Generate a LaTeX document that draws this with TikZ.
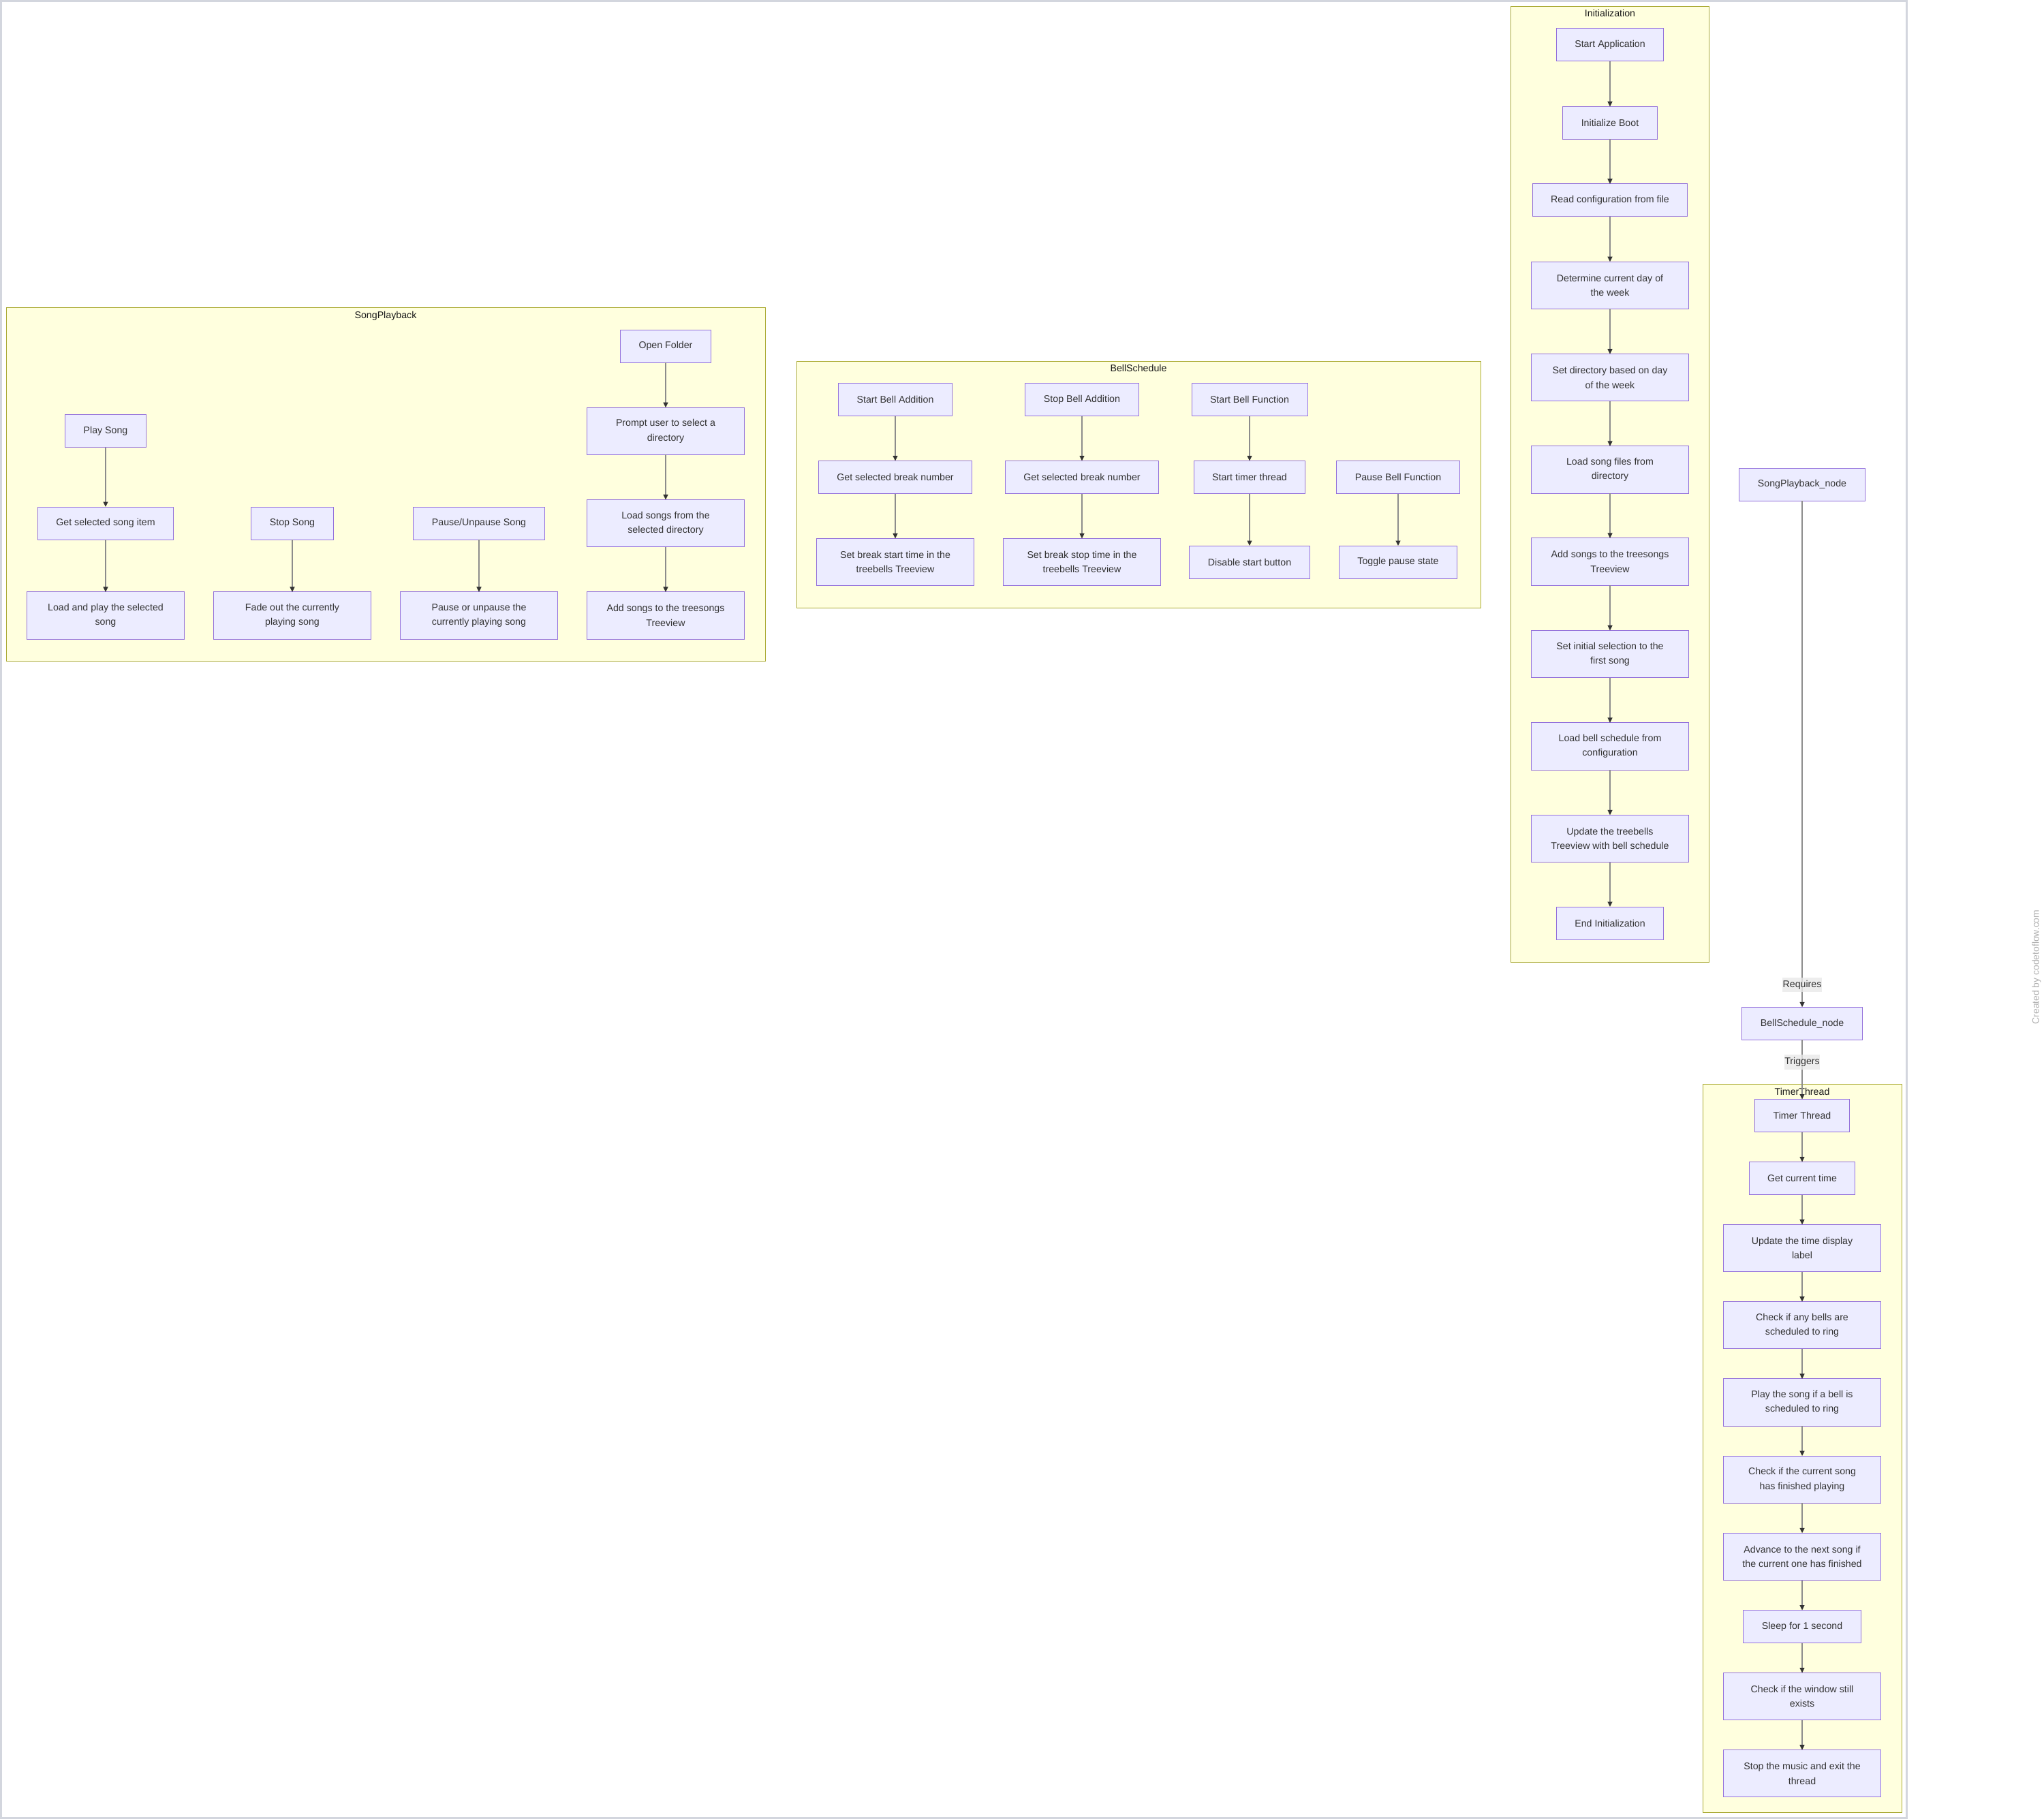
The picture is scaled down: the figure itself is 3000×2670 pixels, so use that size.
\documentclass[tikz,border=0pt]{standalone}
\usepackage{fontspec}
\setmainfont{Liberation Sans}
\usetikzlibrary{arrows.meta}

\definecolor{nodefill}{HTML}{ECECFF}
\definecolor{nodeline}{HTML}{9370DB}
\definecolor{clusterfill}{HTML}{FFFFDE}
\definecolor{clusterline}{HTML}{AAAA33}
\definecolor{ink}{HTML}{333333}
\definecolor{edgeline}{HTML}{8C8C8C}
\definecolor{labelfill}{HTML}{E8E8E8}
\definecolor{frameline}{HTML}{D3D6DE}
\definecolor{marktext}{HTML}{AEAEAE}

\tikzset{
  every node/.style={font=\fontsize{14.2}{21.3}\selectfont, text=ink, outer sep=0pt},
  box/.style={draw=nodeline, fill=nodefill, line width=1pt, inner xsep=27pt, inner ysep=0pt, minimum height=48pt},
  wide/.style={box, align=center, minimum width=231pt, minimum height=69.2pt},
  cluster/.style={draw=clusterline, fill=clusterfill, line width=1pt},
  ctitle/.style={anchor=base, text=black!90},
  flow/.style={draw=edgeline, line width=1.3pt, -{Triangle[length=7.5pt,width=7pt,color=ink]}},
  elabel/.style={fill=labelfill, fill opacity=0.8, text opacity=1, inner xsep=0.5pt, inner ysep=0pt, minimum height=21.3pt}
}

\begin{document}
\begin{tikzpicture}[x=1pt,y=-1pt]
\useasboundingbox (0,0) rectangle (3000,2670);

% outer frame and credit line
\draw[frameline, line width=3pt] (1.5,1.5) rectangle (2798.5,2668.5);
\node[rotate=90, text=marktext, font=\fontsize{13.9}{16}\selectfont] (credit) at (2989,1419.5) {Created by codetoflow.com};

% subgraph frames
\draw[cluster] (2217.5,9.5) rectangle (2508.5,1412);
\node[ctitle] (tinit) at (2363,25) {Initialization};
\draw[cluster] (9.5,451.5) rectangle (1123,970);
\node[ctitle] (tsong) at (566,467) {SongPlayback};
\draw[cluster] (1169,530) rectangle (2173.5,892);
\node[ctitle] (tbell) at (1671,545.5) {BellSchedule};
\draw[cluster] (2499,1591.5) rectangle (2791,2660);
\node[ctitle] (ttimer) at (2645,1607) {TimerThread};

% Initialization
\node[box]  (sa) at (2363,66)     {Start Application};
\node[box]  (ib) at (2363,180.5)  {Initialize Boot};
\node[box]  (rc) at (2363,294)    {Read configuration from file};
\node[wide] (dd) at (2363,418.8)  {Determine current day of\\the week};
\node[wide] (sd) at (2363,554.3)  {Set directory based on day\\of the week};
\node[wide] (lf) at (2363,689.5)  {Load song files from\\directory};
\node[wide] (as) at (2363,824.5)  {Add songs to the treesongs\\Treeview};
\node[wide] (si) at (2363,960)    {Set initial selection to the\\first song};
\node[wide] (lb) at (2363,1095.5) {Load bell schedule from\\configuration};
\node[wide] (ut) at (2363,1231)   {Update the treebells\\Treeview with bell schedule};
\node[box]  (ei) at (2363,1355)   {End Initialization};

% SongPlayback
\node[box]  (of)  at (977,508)    {Open Folder};
\node[wide] (pr)  at (977,632.8)  {Prompt user to select a\\directory};
\node[wide] (lsd) at (977,768)    {Load songs from the\\selected directory};
\node[wide] (ast) at (977,903.5)  {Add songs to the treesongs\\Treeview};
\node[box]  (ps)  at (155,632.8)  {Play Song};
\node[box]  (gs)  at (155,768)    {Get selected song item};
\node[wide] (lp)  at (155,903.5)  {Load and play the selected\\song};
\node[box]  (ss)  at (429,768)    {Stop Song};
\node[wide] (fo)  at (429,903.5)  {Fade out the currently\\playing song};
\node[box]  (pp)  at (703,768)    {Pause/Unpause Song};
\node[wide] (pu)  at (703,903.5)  {Pause or unpause the\\currently playing song};

% BellSchedule
\node[box]  (sba) at (1314,586.5) {Start Bell Addition};
\node[box]  (gb1) at (1314,700.5) {Get selected break number};
\node[wide] (sbs) at (1314,825)   {Set break start time in the\\treebells Treeview};
\node[box]  (sbo) at (1588,586.5) {Stop Bell Addition};
\node[box]  (gb2) at (1588,700.5) {Get selected break number};
\node[wide] (sbt) at (1588,825)   {Set break stop time in the\\treebells Treeview};
\node[box]  (sbf) at (1834,586.5) {Start Bell Function};
\node[box]  (stt) at (1834,700.5) {Start timer thread};
\node[box]  (dsb) at (1834,825)   {Disable start button};
\node[box]  (pbf) at (2052,700.5) {Pause Bell Function};
\node[box]  (tps) at (2052,825)   {Toggle pause state};

% cross-group nodes
\node[box] (spn) at (2645,711)    {SongPlayback\_node};
\node[box] (bsn) at (2645,1502.3) {BellSchedule\_node};

% TimerThread
\node[box]  (tt)  at (2645,1637.5) {Timer Thread};
\node[box]  (gct) at (2645,1729.5) {Get current time};
\node[wide] (utd) at (2645,1832.1) {Update the time display\\label};
\node[wide] (cab) at (2645,1945.3) {Check if any bells are\\scheduled to ring};
\node[wide] (psb) at (2645,2058.5) {Play the song if a bell is\\scheduled to ring};
\node[wide] (cfp) at (2645,2171.7) {Check if the current song\\has finished playing};
\node[wide] (adv) at (2645,2284.9) {Advance to the next song if\\the current one has finished};
\node[box]  (slp) at (2645,2387.5) {Sleep for 1 second};
\node[wide] (cwe) at (2645,2490.1) {Check if the window still\\exists};
\node[wide] (stm) at (2645,2603.3) {Stop the music and exit the\\thread};

% connectors
\draw[flow] (sa) -- (ib);
\draw[flow] (ib) -- (rc);
\draw[flow] (rc) -- (dd);
\draw[flow] (dd) -- (sd);
\draw[flow] (sd) -- (lf);
\draw[flow] (lf) -- (as);
\draw[flow] (as) -- (si);
\draw[flow] (si) -- (lb);
\draw[flow] (lb) -- (ut);
\draw[flow] (ut) -- (ei);

\draw[flow] (of) -- (pr);
\draw[flow] (pr) -- (lsd);
\draw[flow] (lsd) -- (ast);
\draw[flow] (ps) -- (gs);
\draw[flow] (gs) -- (lp);
\draw[flow] (ss) -- (fo);
\draw[flow] (pp) -- (pu);

\draw[flow] (sba) -- (gb1);
\draw[flow] (gb1) -- (sbs);
\draw[flow] (sbo) -- (gb2);
\draw[flow] (gb2) -- (sbt);
\draw[flow] (sbf) -- (stt);
\draw[flow] (stt) -- (dsb);
\draw[flow] (pbf) -- (tps);

\draw[flow] (spn) -- (bsn);
\node[elabel] (lreq) at (2645,1445.7) {Requires};
\draw[flow] (bsn) -- (tt);
\node[elabel] (ltrig) at (2645,1559) {Triggers};

\draw[flow] (tt) -- (gct);
\draw[flow] (gct) -- (utd);
\draw[flow] (utd) -- (cab);
\draw[flow] (cab) -- (psb);
\draw[flow] (psb) -- (cfp);
\draw[flow] (cfp) -- (adv);
\draw[flow] (adv) -- (slp);
\draw[flow] (slp) -- (cwe);
\draw[flow] (cwe) -- (stm);
\end{tikzpicture}
\end{document}
